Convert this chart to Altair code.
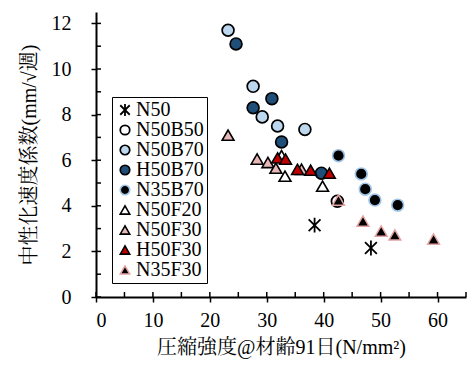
import altair as alt
import pandas as pd

series = ["N50", "N50B50", "N50B70", "H50B70", "N35B70",
          "N50F20", "N50F30", "H50F30", "N35F30"]

x_N50 = [38.4, 48.3]
y_N50 = [3.15, 2.15]
x_N50B50 = [42.4]
y_N50B50 = [4.2]
x_N50B70 = [23.2, 27.6, 29.2, 31.9, 36.7]
y_N50B70 = [11.7, 9.24, 7.9, 7.5, 7.35]
x_H50B70 = [24.6, 30.9, 27.6, 32.6, 39.6]
y_H50B70 = [11.1, 8.7, 8.3, 6.8, 5.43]
x_N35B70 = [42.6, 46.6, 47.3, 49.0, 53.0]
y_N35B70 = [6.2, 5.4, 4.73, 4.25, 4.03]
x_N50F20 = [32.6, 33.2, 39.8]
y_N50F20 = [6.2, 5.3, 4.86]
x_N50F30 = [23.2, 28.3, 30.2, 31.6, 36.1]
y_N50F30 = [7.1, 6.05, 5.9, 5.65, 5.6]
x_H50F30 = [31.9, 33.3, 35.4, 37.7, 41.0]
y_H50F30 = [6.1, 6.05, 5.6, 5.56, 5.43]
x_N35F30 = [42.6, 46.9, 50.1, 52.5, 59.3]
y_N35F30 = [4.25, 3.33, 2.89, 2.72, 2.54]

xs = [x_N50, x_N50B50, x_N50B70, x_H50B70, x_N35B70, x_N50F20, x_N50F30, x_H50F30, x_N35F30]
ys = [y_N50, y_N50B50, y_N50B70, y_H50B70, y_N35B70, y_N50F20, y_N50F30, y_H50F30, y_N35F30]

rows = []
for i, (s, xl, yl) in enumerate(zip(series, xs, ys)):
    for a, b in zip(xl, yl):
        rows.append({"series": s, "x": a, "y": b, "idx": i})
df = pd.DataFrame(rows)

fills = ["transparent", "#ffffff", "#bdd7ee", "#1f4e79", "#000000",
         "#ffffff", "#e6b8b7", "#c00000", "#000000"]
strokes = ["#000000", "#000000", "#000000", "#000000", "#9dc3e6",
           "#000000", "#000000", "#000000", "#e3a3a3"]
widths = [1.8, 1.5, 1.5, 1.5, 3.0, 1.5, 1.5, 1.5, 2.6]
star = "M-1,-1L1,1M-1,1L1,-1M0,-1.25L0,1.25"
shapes = [star, "circle", "circle", "circle", "circle",
          "triangle-up", "triangle-up", "triangle-up", "triangle-up"]

x_major = [0, 10, 20, 30, 40, 50, 60]
x_minor = [5, 15, 25, 35, 45, 55, 65]
y_major = [0, 2, 4, 6, 8, 10, 12]
y_minor = [1, 3, 5, 7, 9, 11]

FONT = "'Liberation Serif', 'Times New Roman', 'Noto Serif CJK JP', 'Noto Sans CJK JP', serif"
W, H = 370, 285

xscale = alt.Scale(domain=[0, 65], nice=False, zero=False)
yscale = alt.Scale(domain=[0, 12.5], nice=False, zero=False)

legend = alt.Legend(
    orient="none", legendX=16, legendY=85, strokeColor="#000000",
    fillColor="#ffffff", padding=3, labelFont=FONT, labelFontSize=20,
    labelColor="#000000", symbolSize=90, rowPadding=-0.5, labelOffset=1,
    labelLimit=200, symbolType="circle",
)

points = alt.Chart(df).mark_point(filled=True, size=140, opacity=1).encode(
    x=alt.X("x:Q", scale=xscale,
            axis=alt.Axis(values=x_major, title="圧縮強度@材齢91日(N/mm²)",
                          titlePadding=7)),
    y=alt.Y("y:Q", scale=yscale,
            axis=alt.Axis(values=y_major, title="中性化速度係数(mm/√週)",
                          titlePadding=12)),
    fill=alt.Fill("series:N", scale=alt.Scale(domain=series, range=fills),
                  title=None, legend=legend),
    stroke=alt.Stroke("series:N", scale=alt.Scale(domain=series, range=strokes),
                      title=None, legend=legend),
    shape=alt.Shape("series:N", scale=alt.Scale(domain=series, range=shapes),
                    title=None, legend=legend),
    strokeWidth=alt.StrokeWidth("series:N", scale=alt.Scale(domain=series, range=widths),
                                title=None, legend=legend),
    order=alt.Order("idx:Q"),
)

xt_major = alt.Chart(pd.DataFrame({"v": x_major})).mark_rule(color="#000000", strokeWidth=1.5).encode(
    x=alt.X("v:Q", scale=xscale), y=alt.value(H), y2=alt.value(H - 5))
xt_minor = alt.Chart(pd.DataFrame({"v": x_minor})).mark_rule(color="#000000", strokeWidth=1.5).encode(
    x=alt.X("v:Q", scale=xscale), y=alt.value(H), y2=alt.value(H - 5))
yt_major = alt.Chart(pd.DataFrame({"v": y_major})).mark_rule(color="#000000", strokeWidth=1.5).encode(
    y=alt.Y("v:Q", scale=yscale), x=alt.value(0), x2=alt.value(5))
yt_minor = alt.Chart(pd.DataFrame({"v": y_minor})).mark_rule(color="#000000", strokeWidth=1.5).encode(
    y=alt.Y("v:Q", scale=yscale), x=alt.value(0), x2=alt.value(5))

chart = alt.layer(xt_major, xt_minor, yt_major, yt_minor, points).properties(
    width=W, height=H,
    autosize=alt.AutoSizeParams(type="none"),
    padding={"left": 96, "top": 12, "right": 1, "bottom": 68},
).configure_view(stroke=None).configure_axis(
    grid=False, domainColor="#000000", domainWidth=2, tickColor="#000000",
    tickWidth=1.5, tickSize=5, labelFont=FONT, labelFontSize=20,
    labelColor="#000000", titleFont=FONT, titleFontSize=20,
    titleColor="#000000", titleFontWeight="normal",
).configure_axisX(labelPadding=8).configure_axisY(labelPadding=20)

chart.save("out.html", embed_options={"renderer": "svg", "actions": False})
